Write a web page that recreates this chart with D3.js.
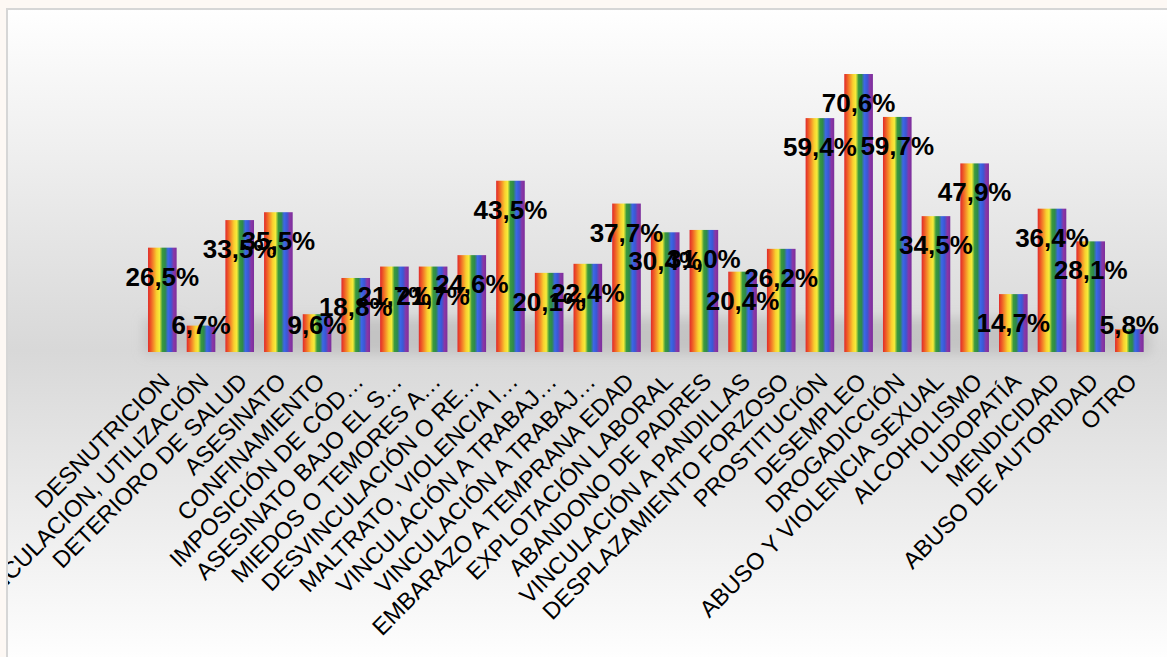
<!DOCTYPE html>
<html>
<head>
<meta charset="utf-8">
<script src="https://cdn.jsdelivr.net/npm/d3@7"></script>
<style>
  body { margin: 0; background: #fdf8f4; }
  svg { display: block; }
</style>
</head>
<body>
<script>
var categories = [
  "DESNUTRICION", "VINCULACION, UTILIZACIÓN", "DETERIORO DE SALUD", "ASESINATO",
  "CONFINAMIENTO", "IMPOSICIÓN DE CÓD…", "ASESINATO BAJO EL S…", "MIEDOS O TEMORES A…",
  "DESVINCULACIÓN O RE…", "MALTRATO, VIOLENCIA I…", "VINCULACIÓN A TRABAJ…", "VINCULACIÓN A TRABAJ…",
  "EMBARAZO A TEMPRANA EDAD", "EXPLOTACIÓN LABORAL", "ABANDONO DE PADRES", "VINCULACIÓN A PANDILLAS",
  "DESPLAZAMIENTO FORZOSO", "PROSTITUCIÓN", "DESEMPLEO", "DROGADICCIÓN",
  "ABUSO Y VIOLENCIA SEXUAL", "ALCOHOLISMO", "LUDOPATÍA", "MENDICIDAD",
  "ABUSO DE AUTORIDAD", "OTRO"
];
var values = [
  26.5, 6.7, 33.5, 35.5, 9.6, 18.8, 21.7, 21.7, 24.6, 43.5, 20.1, 22.4, 37.7,
  30.4, 31.0, 20.4, 26.2, 59.4, 70.6, 59.7, 34.5, 47.9, 14.7, 36.4, 28.1, 5.8
];
var rainbow = ["#e02b2b", "#ee5a26", "#f5922a", "#f9cf2f", "#f6ec3a", "#3a9a3e", "#2e8a4a", "#3d67e6", "#3a58d4", "#8a36a6", "#7b2f9c"];

var w = 1167, h = 657;
var data = categories.map(function(c, i) { return { key: i, name: c, value: values[i] }; });

var svg = d3.select("body").append("svg").attr("width", w).attr("height", h);
var defs = svg.append("defs");

var bg = defs.append("linearGradient").attr("id", "bg").attr("x1", 0).attr("x2", 0).attr("y1", 0).attr("y2", 1);
bg.append("stop").attr("offset", "0%").attr("stop-color", "#ffffff");
bg.append("stop").attr("offset", "52%").attr("stop-color", "#d8d8d8");
bg.append("stop").attr("offset", "100%").attr("stop-color", "#ffffff");

var rg = defs.append("linearGradient").attr("id", "rainbow").attr("x1", 0).attr("x2", 1).attr("y1", 0).attr("y2", 0);
rainbow.forEach(function(c, i) {
  rg.append("stop").attr("offset", (i / (rainbow.length - 1) * 100) + "%").attr("stop-color", c);
});

defs.append("filter").attr("id", "blur").attr("x", "-20%").attr("y", "-50%").attr("width", "140%").attr("height", "200%")
  .append("feGaussianBlur").attr("stdDeviation", 6);

defs.append("clipPath").attr("id", "panel")
  .append("rect").attr("x", 8).attr("y", 10).attr("width", w).attr("height", h);

// panel
svg.append("rect").attr("x", 7).attr("y", 9).attr("width", w).attr("height", h)
  .attr("fill", "url(#bg)").attr("stroke", "#d6d6d6").attr("stroke-width", 2);

var x = d3.scaleBand().domain(d3.range(categories.length)).range([143, 1148.7])
  .paddingInner(0.26).paddingOuter(0.13);
var y = d3.scaleLinear().domain([0, 80]).range([352, 37]);

// soft shadow band under the bars
svg.append("g").attr("filter", "url(#blur)")
  .selectAll("rect").data(data).enter().append("rect")
  .attr("x", function(d) { return x(d.key) - 4; })
  .attr("width", x.step())
  .attr("y", function(d) { return Math.max(y(d.value), 318); })
  .attr("height", function(d) { return y(0) - Math.max(y(d.value), 318) + 2; })
  .attr("fill", "#a8a8a8").attr("opacity", 0.45);

svg.append("g").selectAll("rect").data(data).enter().append("rect")
  .attr("x", function(d) { return x(d.key); })
  .attr("y", function(d) { return y(d.value); })
  .attr("width", x.bandwidth())
  .attr("height", function(d) { return y(0) - y(d.value); })
  .attr("fill", "url(#rainbow)");

var fmt = function(v) { return v.toFixed(1).replace(".", ",") + "%"; };

svg.append("g").selectAll("text").data(data).enter().append("text")
  .attr("x", function(d) { return x(d.key) + x.bandwidth() / 2; })
  .attr("y", function(d) { return Math.min(y(d.value) + 38, 334); })
  .attr("text-anchor", "middle")
  .style("font-family", "'Liberation Sans', Arial, sans-serif")
  .style("font-weight", "bold")
  .style("font-size", "26px")
  .attr("fill", "#000")
  .text(function(d) { return fmt(d.value); });

var xAxis = svg.append("g").attr("clip-path", "url(#panel)")
  .append("g").attr("transform", "translate(0,352)")
  .call(d3.axisBottom(x).tickSize(0).tickFormat(function(i) { return categories[i]; }));
xAxis.select(".domain").remove();
xAxis.selectAll("text")
  .style("font-family", "'Liberation Sans', Arial, sans-serif")
  .style("font-size", "23.5px")
  .attr("fill", "#000")
  .attr("text-anchor", "end")
  .attr("dy", null)
  .attr("y", 0)
  .attr("transform", "translate(9,31) rotate(-45)");
</script>
</body>
</html>
